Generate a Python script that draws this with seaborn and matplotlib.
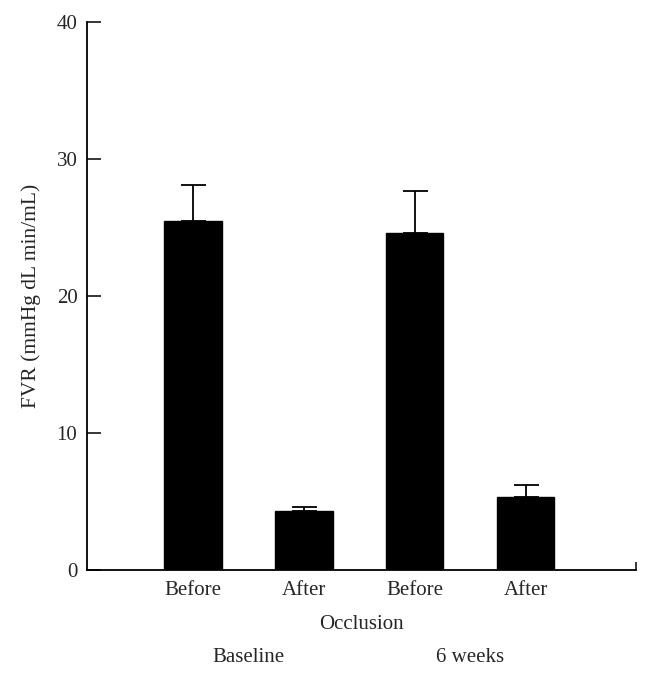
import matplotlib
matplotlib.use("Agg")
import matplotlib.pyplot as plt
import matplotlib.transforms as mtransforms
import seaborn as sns
import pandas as pd
import numpy as np

conditions = ["Baseline Before", "Baseline After", "6 weeks Before", "6 weeks After"]
tick_labels = ["Before", "After", "Before", "After"]
means = [25.5, 4.3, 24.6, 5.3]
errors = [2.6, 0.3, 3.1, 0.9]
groups = ["Baseline", "6 weeks"]

sns.set_style("white")
plt.rcParams['font.family'] = ['Liberation Serif', 'DejaVu Serif']

fig = plt.figure(figsize=(6.5, 6.76), dpi=100)
ax = fig.add_axes([0.134, 0.157, 0.844, 0.81])

df = pd.DataFrame({"cond": conditions, "val": means})
sns.barplot(data=df, x="cond", y="val", color="black", width=0.515,
            saturation=1, ax=ax, errorbar=None)
for p in ax.patches:
    p.set_edgecolor("black")

pos = np.arange(len(conditions))
ax.errorbar(pos, means, yerr=[np.zeros(len(errors)), errors], fmt="none",
            ecolor="black", elinewidth=1.3, capsize=9, capthick=1.3)

ax.set_xlim(-0.955, 3.99)
ax.set_ylim(0, 40)
ax.set_yticks([0, 10, 20, 30, 40])
ax.set_xticks(pos, tick_labels)
ax.tick_params(axis="x", length=0, labelsize=15, pad=8)
ax.tick_params(axis="y", direction="in", length=10, width=1.3, labelsize=15, pad=7, left=True)
ax.set_xticks([3.99], minor=True)
ax.tick_params(axis="x", which="minor", direction="in", length=6, width=1.3, bottom=True)

for s in ["top", "right"]:
    ax.spines[s].set_visible(False)
for s in ["left", "bottom"]:
    ax.spines[s].set_linewidth(1.3)
    ax.spines[s].set_color("black")

ax.set_xlabel("Occlusion", fontsize=15, labelpad=11)
ax.set_ylabel("FVR (mmHg dL min/mL)", fontsize=15.5, labelpad=11)

trans = mtransforms.blended_transform_factory(ax.transData, fig.transFigure)
for i, g in enumerate(groups):
    ax.text(2 * i + 0.5, 1 - 658 / 676, g, transform=trans, ha="center",
            va="center", fontsize=15)

fig.savefig("out.png", dpi=100)
